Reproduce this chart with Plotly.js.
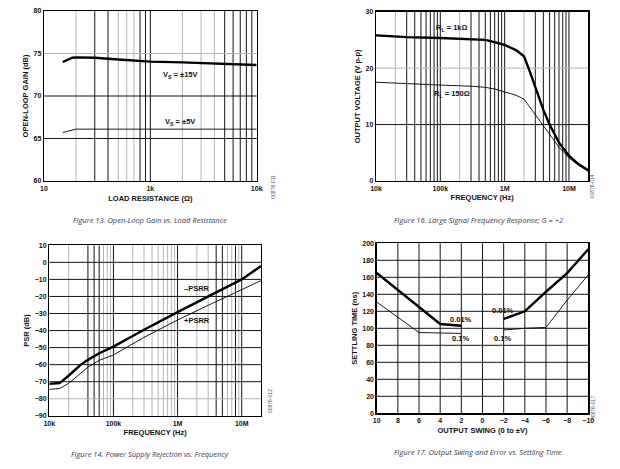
<!DOCTYPE html>
<html>
<head>
<meta charset="utf-8">
<script src="https://cdn.plot.ly/plotly-3.0.1.min.js"></script>
<style>
  html, body { margin: 0; padding: 0; background: #fff; }
  #plot { width: 620px; height: 469px; }
</style>
</head>
<body>
<div id="plot"></div>
<script>
// Figure 13: open-loop gain vs load resistance
var loadRes = [150, 185, 200, 300, 500, 1000, 2000, 5000, 10000];
var gain15V = [74.0, 74.5, 74.55, 74.5, 74.3, 74.05, 73.95, 73.8, 73.65];
var gain5V = [65.7, 66.05, 66.1, 66.1, 66.1, 66.1, 66.1, 66.1, 66.1];

// Figure 16: large signal frequency response
var lsFreq = [1e4, 3e4, 1e5, 3e5, 5e5, 7e5, 1e6, 1.5e6, 2e6, 2.5e6, 3e6, 4e6, 5e6, 7e6, 1e7, 1.4e7, 2e7];
var vout1k = [25.8, 25.5, 25.35, 25.2, 25.0, 24.6, 24.1, 23.2, 22.1, 19.2, 16.5, 12.6, 10.0, 6.8, 4.5, 3.0, 1.9];
var vout150 = [17.5, 17.2, 17.0, 16.8, 16.6, 16.3, 15.8, 15.2, 14.5, 13.0, 11.8, 9.8, 8.3, 6.0, 4.1, 2.8, 1.7];

// Figure 14: power supply rejection vs frequency
var psrFreq = [1e4, 1.2e4, 1.45e4, 2e4, 3e4, 4e4, 6e4, 1e5, 3e5, 1e6, 3e6, 1e7, 2e7];
var psrrMinus = [-71.3, -71.2, -70.8, -66.5, -60.5, -57.2, -53.3, -49.4, -39.5, -29.2, -19.9, -10.0, -2.2];
var psrrPlus = [-74.5, -74.4, -74.0, -71.0, -65.5, -61.5, -57.5, -54.3, -44.0, -33.8, -25.2, -15.8, -10.7];

// Figure 17: output swing vs settling time
var swing = [10, 8, 6, 4, 2, 0, -2, -4, -6, -8, -10];
var settle001 = [165, 145, 125, 105, 103, null, 111, 120, 143, 165, 193];
var settle01 = [131, 113, 95, 94.5, 94, null, 98, 100, 101, 133, 163];

// tick labels
var resTickVals = [100, 1000, 10000];
var resTickText = ['10', '1k', '10k'];
var freqTickVals = [1e4, 1e5, 1e6, 1e7];
var freqTickText = ['10k', '100k', '1M', '10M'];

// grid lines, dark and light, per panel
var g1xDark = [300, 400, 800, 900, 1000, 5000, 6000, 7000, 8000, 9000];
var g1xLight = [200, 500, 600, 700, 2000, 3000, 4000];
var g1yDark = [65, 70];
var g1yLight = [75];
var g2xDark = [3e4, 4e4, 5e4, 6e4, 7e4, 8e4, 9e4, 1e5, 3e5, 4e5, 5e5, 6e5, 7e5, 8e5, 9e5, 1e6, 3e6, 4e6, 5e6, 6e6, 7e6, 8e6, 9e6, 1e7];
var g2xLight = [2e4, 2e5, 2e6];
var g2yDark = [10];
var g2yLight = [20];
var g3xDark = [4e4, 5e4, 6e4, 1e5, 1e6, 4e6, 5e6, 8e6, 1e7];
var g3xLight = [2e4, 7e4, 8e4, 9e4, 2e5, 3e5, 4e5, 5e5, 6e5, 7e5, 8e5, 9e5, 2e6, 3e6, 6e6, 7e6, 9e6];
var g3yDark = [-70, -60, -50, -40, -30, -20, -10, 0];
var g3yLight = [-80];
var g4xDark = [8, 6, 4, 2, 0, -2, -4, -6, -8];
var g4yDark = [20, 40, 60, 80, 100, 120, 140, 160, 180];

var DARK = '#141414', LIGHT = '#b4b4b4';
var tickFont = {family: 'Liberation Sans, Arial, sans-serif', size: 7, color: '#111', weight: 'bold'};
var titleFont = {family: 'Liberation Sans, Arial, sans-serif', size: 7.5, color: '#111', weight: 'bold'};
var labelFont = {family: 'Liberation Sans, Arial, sans-serif', size: 7.5, color: '#111', weight: 'bold'};
var capFont = {family: 'Open Sans, sans-serif', size: 7.5, color: '#3a3d4e', style: 'italic'};

function vLines(xr, yr, vals, color) {
  return vals.map(function (v) {
    return {type: 'line', xref: xr, yref: yr + ' domain', x0: v, x1: v, y0: 0, y1: 1,
            line: {color: color, width: 1}, layer: 'below'};
  });
}
function hLines(xr, yr, vals, color) {
  return vals.map(function (v) {
    return {type: 'line', xref: xr + ' domain', yref: yr, x0: 0, x1: 1, y0: v, y1: v,
            line: {color: color, width: 1}, layer: 'below'};
  });
}

function ax(opts) {
  var base = {
    showgrid: false, zeroline: false, showline: true, mirror: true,
    linecolor: '#000', linewidth: 1.3, ticks: '', tickfont: tickFont, fixedrange: true
  };
  for (var k in opts) base[k] = opts[k];
  return base;
}

var thick = {color: '#000', width: 2.4};
var thin = {color: '#000', width: 0.9};

var data = [
  {x: loadRes, y: gain15V, xaxis: 'x', yaxis: 'y', mode: 'lines', line: thick},
  {x: loadRes, y: gain5V, xaxis: 'x', yaxis: 'y', mode: 'lines', line: thin},
  {x: lsFreq, y: vout1k, xaxis: 'x2', yaxis: 'y2', mode: 'lines', line: thick},
  {x: lsFreq, y: vout150, xaxis: 'x2', yaxis: 'y2', mode: 'lines', line: thin},
  {x: psrFreq, y: psrrMinus, xaxis: 'x3', yaxis: 'y3', mode: 'lines', line: thick},
  {x: psrFreq, y: psrrPlus, xaxis: 'x3', yaxis: 'y3', mode: 'lines', line: thin},
  {x: swing, y: settle001, xaxis: 'x4', yaxis: 'y4', mode: 'lines', line: thick, connectgaps: false},
  {x: swing, y: settle01, xaxis: 'x4', yaxis: 'y4', mode: 'lines', line: thin, connectgaps: false}
];

var shapes = [].concat(
  vLines('x', 'y', g1xLight, LIGHT), vLines('x', 'y', g1xDark, DARK),
  hLines('x', 'y', g1yLight, LIGHT), hLines('x', 'y', g1yDark, DARK),
  vLines('x2', 'y2', g2xLight, LIGHT), vLines('x2', 'y2', g2xDark, DARK),
  hLines('x2', 'y2', g2yLight, LIGHT), hLines('x2', 'y2', g2yDark, DARK),
  vLines('x3', 'y3', g3xLight, LIGHT), vLines('x3', 'y3', g3xDark, DARK),
  hLines('x3', 'y3', g3yLight, LIGHT), hLines('x3', 'y3', g3yDark, DARK),
  vLines('x4', 'y4', g4xDark, DARK), hLines('x4', 'y4', g4yDark, DARK)
);

function lab(text, xr, yr, x, y) {
  return {text: text, xref: xr, yref: yr, x: x, y: y, showarrow: false, font: labelFont};
}
function cap(text, x, y) {
  return {text: text, xref: 'paper', yref: 'paper', x: x, y: y, showarrow: false, font: capFont,
          xanchor: 'center', yanchor: 'middle'};
}
function code(text, x, y) {
  return {text: text, xref: 'paper', yref: 'paper', x: x, y: y, showarrow: false, textangle: -90,
          font: {family: 'Liberation Sans, Arial, sans-serif', size: 5, color: '#4a5068'}};
}

var annotations = [
  lab('V<sub>S</sub> = ±15V', 'x', 'y', Math.log10(1900), 72.5),
  lab('V<sub>S</sub> = ±5V', 'x', 'y', Math.log10(1900), 66.9),
  lab('R<sub>L</sub> = 1kΩ', 'x2', 'y2', Math.log10(1.5e5), 27.2),
  lab('R<sub>L</sub> = 150Ω', 'x2', 'y2', Math.log10(1.5e5), 15.4),
  lab('–PSRR', 'x3', 'y3', Math.log10(2e6), -15.6),
  lab('+PSRR', 'x3', 'y3', Math.log10(2e6), -34.2),
  lab('0.01%', 'x4', 'y4', 2.05, 110.6),
  lab('0.1%', 'x4', 'y4', 2.05, 88.2),
  lab('0.01%', 'x4', 'y4', -1.9, 120.4),
  lab('0.1%', 'x4', 'y4', -1.9, 88.2),
  cap('Figure 13. Open-Loop Gain vs. Load Resistance', 149.7 / 620, 1 - 220 / 469),
  cap('Figure 16. Large Signal Frequency Response; G = +2', 478.3 / 620, 1 - 220 / 469),
  cap('Figure 14. Power Supply Rejection vs. Frequency', 149.7 / 620, 1 - 454 / 469),
  cap('Figure 17. Output Swing and Error vs. Settling Time', 478 / 620, 1 - 451.7 / 469),
  code('00876-011', 272.7 / 620, 1 - 187 / 469),
  code('00876-014', 596.7 / 620, 1 - 186.7 / 469),
  code('00876-012', 270 / 620, 1 - 415 / 469),
  code('00876-017', 597.3 / 620, 1 - 421.7 / 469)
];

var layout = {
  width: 620, height: 469,
  margin: {l: 0, r: 0, t: 0, b: 0},
  paper_bgcolor: '#fff', plot_bgcolor: '#fff',
  showlegend: false,
  xaxis: ax({domain: [44 / 620, 256.7 / 620], anchor: 'y', type: 'log', range: [2, 4],
             tickvals: resTickVals, ticktext: resTickText,
             title: {text: 'LOAD RESISTANCE (Ω)', font: titleFont, standoff: 5}}),
  yaxis: ax({domain: [1 - 181 / 469, 1 - 11 / 469], anchor: 'x', range: [60, 80], dtick: 5,
             title: {text: 'OPEN-LOOP GAIN (dB)', font: titleFont, standoff: 4}}),
  xaxis2: ax({domain: [376 / 620, 588.3 / 620], anchor: 'y2', type: 'log', range: [4, Math.log10(2e7)],
              tickvals: freqTickVals, ticktext: freqTickText,
              title: {text: 'FREQUENCY (Hz)', font: titleFont, standoff: 4}}),
  yaxis2: ax({domain: [1 - 181 / 469, 1 - 11.7 / 469], anchor: 'x2', range: [0, 30], dtick: 10,
              title: {text: 'OUTPUT VOLTAGE (V p-p)', font: titleFont, standoff: 4}}),
  xaxis3: ax({domain: [49.3 / 620, 261 / 620], anchor: 'y3', type: 'log', range: [4, Math.log10(2e7)],
              tickvals: freqTickVals, ticktext: freqTickText,
              title: {text: 'FREQUENCY (Hz)', font: titleFont, standoff: 4}}),
  yaxis3: ax({domain: [1 - 415.8 / 469, 1 - 245.3 / 469], anchor: 'x3', range: [-90, 10], dtick: 10, tick0: -90,
              title: {text: 'PSR (dB)', font: titleFont, standoff: 4}}),
  xaxis4: ax({domain: [376.7 / 620, 588.3 / 620], anchor: 'y4', range: [10, -10], dtick: 2, tick0: 0,
              title: {text: 'OUTPUT SWING (0 to ±V)', font: titleFont, standoff: 4}}),
  yaxis4: ax({domain: [1 - 413.3 / 469, 1 - 243.3 / 469], anchor: 'x4', range: [0, 200], dtick: 20,
              title: {text: 'SETTLING TIME (ns)', font: titleFont, standoff: 3}}),
  shapes: shapes,
  annotations: annotations
};

Plotly.newPlot('plot', data, layout, {displayModeBar: false, staticPlot: true});
</script>
</body>
</html>
